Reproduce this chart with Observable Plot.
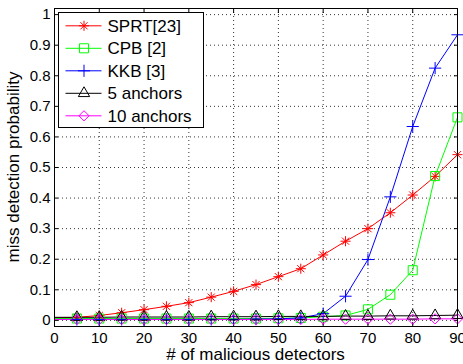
<!DOCTYPE html>
<html>
<head>
<meta charset="utf-8">
<script src="https://cdn.jsdelivr.net/npm/d3@7"></script>
<script src="https://cdn.jsdelivr.net/npm/@observablehq/plot@0.6"></script>
<style>
  html, body { margin: 0; padding: 0; background: #fff; }
  #chart { position: relative; width: 463px; height: 364px; }
  svg { font-family: "Liberation Sans", Arial, Helvetica, sans-serif; }
</style>
</head>
<body>
<div id="chart"></div>
<script>
const detectors = [0, 5, 10, 15, 20, 25, 30, 35, 40, 45, 50, 55, 60, 65, 70, 75, 80, 85, 90];
const sprt      = [0.008, 0.010, 0.016, 0.025, 0.035, 0.046, 0.058, 0.076, 0.095, 0.117, 0.143, 0.169, 0.214, 0.259, 0.300, 0.352, 0.410, 0.471, 0.542];
const cpb       = [0.006, 0.006, 0.006, 0.006, 0.006, 0.006, 0.006, 0.006, 0.006, 0.006, 0.007, 0.008, 0.012, 0.016, 0.036, 0.084, 0.164, 0.472, 0.664];
const kkb       = [0.003, 0.003, 0.003, 0.003, 0.003, 0.003, 0.003, 0.003, 0.003, 0.004, 0.005, 0.008, 0.022, 0.079, 0.199, 0.404, 0.634, 0.825, 0.934];
const anchors5  = [0.010, 0.010, 0.010, 0.011, 0.011, 0.011, 0.011, 0.012, 0.012, 0.012, 0.013, 0.013, 0.013, 0.014, 0.014, 0.015, 0.015, 0.016, 0.017];
const anchors10 = [0.003, 0.003, 0.003, 0.003, 0.003, 0.003, 0.003, 0.003, 0.003, 0.003, 0.003, 0.003, 0.004, 0.004, 0.004, 0.004, 0.004, 0.005, 0.005];

const seriesNames = ["SPRT[23]", "CPB [2]", "KKB [3]", "5 anchors", "10 anchors"];
const seriesValues = [sprt, cpb, kkb, anchors5, anchors10];
const seriesColors = ["#ff0000", "#00ff00", "#0000ff", "#000000", "#ff00ff"];
const seriesSymbols = [["plus", "times"], ["square"], ["plus"], ["triangle"], ["diamond2"]];
const seriesR = [3.35, 5.1, 4.0, 4.2, 4.6];

const xTicks = [0, 10, 20, 30, 40, 50, 60, 70, 80, 90];
const yTicks = [0, 0.1, 0.2, 0.3, 0.4, 0.5, 0.6, 0.7, 0.8, 0.9, 1];

const rows = [];
seriesNames.forEach((name, i) => {
  detectors.forEach((d, j) => rows.push({series: name, idx: i, x: d, y: seriesValues[i][j]}));
});

const marks = [
  Plot.gridX(xTicks, {stroke: "#000", strokeOpacity: 1, strokeWidth: 0.8, strokeDasharray: "1,3"}),
  Plot.gridY(yTicks, {stroke: "#000", strokeOpacity: 1, strokeWidth: 0.8, strokeDasharray: "1,3"}),
  Plot.axisX(xTicks, {anchor: "bottom", tickSize: 0, tickPadding: 6, fontSize: 15, label: null}),
  Plot.axisX(xTicks, {anchor: "bottom", tickSize: -4, tickFormat: () => "", label: null}),
  Plot.axisX(xTicks, {anchor: "top", tickSize: -4, tickFormat: () => "", label: null}),
  Plot.axisY(yTicks, {anchor: "left", tickSize: 0, tickPadding: 4, fontSize: 15, tickFormat: d => d3.format("")(+d.toFixed(1)), label: null}),
  Plot.axisY(yTicks, {anchor: "left", tickSize: -4, tickFormat: () => "", label: null}),
  Plot.axisY(yTicks, {anchor: "right", tickSize: -4, tickFormat: () => "", label: null})
];

seriesNames.forEach((name, i) => {
  const data = rows.filter(r => r.idx === i);
  marks.push(Plot.line(data, {x: "x", y: "y", stroke: seriesColors[i], strokeWidth: 1}));
});
seriesNames.forEach((name, i) => {
  const data = rows.filter(r => r.idx === i && r.x > 0);
  seriesSymbols[i].forEach(sym => {
    marks.push(Plot.dot(data, {x: "x", y: "y", symbol: sym, r: seriesR[i], stroke: seriesColors[i], fill: "none", strokeWidth: 1}));
  });
});
marks.push(Plot.frame({stroke: "#000", strokeWidth: 1}));

const plot = Plot.plot({
  width: 463,
  height: 364,
  marginLeft: 54,
  marginRight: 6,
  marginTop: 8,
  marginBottom: 38,
  style: {fontFamily: '"Liberation Sans", Arial, Helvetica, sans-serif', fontSize: "15px", color: "#000", background: "#fff", overflow: "visible"},
  x: {domain: [0, 90]},
  y: {domain: [-0.02, 1.02]},
  marks
});

const svg = d3.select(plot);
svg.append("text")
  .attr("x", 255.5).attr("y", 360)
  .attr("text-anchor", "middle")
  .attr("font-size", 17)
  .attr("fill", "#000")
  .text("# of malicious detectors");
svg.append("text")
  .attr("transform", "translate(19,167) rotate(-90)")
  .attr("text-anchor", "middle")
  .attr("font-size", 17)
  .attr("fill", "#000")
  .text("miss detection probability");

// Legend
const lg = svg.append("g").attr("transform", "translate(58.5,12.5)");
lg.append("rect").attr("width", 145).attr("height", 115)
  .attr("fill", "#fff").attr("stroke", "#000").attr("stroke-width", 1);
const symMap = {plus: d3.symbolPlus, times: d3.symbolTimes, square: d3.symbolSquare, triangle: d3.symbolTriangle, diamond2: d3.symbolDiamond2};
seriesNames.forEach((name, i) => {
  const cy = 13.3 + i * 22.5;
  const row = lg.append("g").attr("transform", `translate(0,${cy})`);
  row.append("line").attr("x1", 7).attr("x2", 43).attr("y1", 0).attr("y2", 0)
    .attr("stroke", seriesColors[i]).attr("stroke-width", 1);
  seriesSymbols[i].forEach(sym => {
    row.append("path")
      .attr("transform", "translate(25.5,0)")
      .attr("d", d3.symbol(symMap[sym], Math.PI * seriesR[i] * seriesR[i])())
      .attr("fill", "none").attr("stroke", seriesColors[i]).attr("stroke-width", 1);
  });
  row.append("text").attr("x", 49).attr("y", 0).attr("dy", "0.36em")
    .attr("text-anchor", "start")
    .attr("font-size", 17).attr("fill", "#000").text(name);
});

document.getElementById("chart").appendChild(plot);
</script>
</body>
</html>
